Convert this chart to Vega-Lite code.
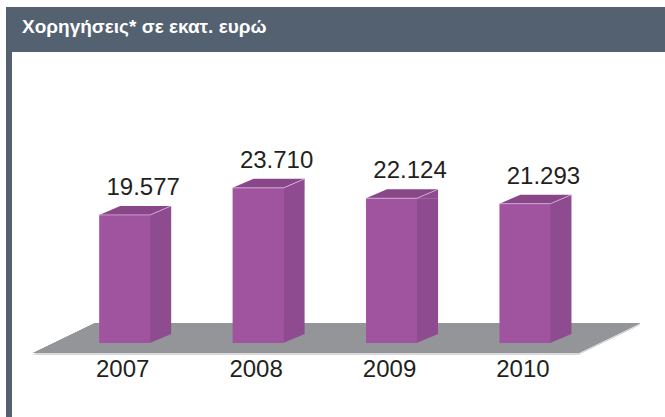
{
  "$schema": "https://vega.github.io/schema/vega-lite/v6.json",
  "background": "white",
  "padding": {"left": 6, "top": 7, "right": 0, "bottom": 0},
  "spacing": 0,
  "config": {
    "view": {"stroke": null},
    "font": "Liberation Sans",
    "locale": {"number": {"decimal": ",", "thousands": ".", "grouping": [3], "currency": ["", " €"]}}
  },
  "title": {
    "text": "Χορηγήσεις* σε εκατ. ευρώ",
    "anchor": "start",
    "orient": "top",
    "offset": -45,
    "dx": 16,
    "baseline": "alphabetic",
    "color": "white",
    "fontSize": 19,
    "fontWeight": "bold",
    "font": "Liberation Sans"
  },
  "datasets": {
    "grants": [
      {"year": 2007, "grants": 19577},
      {"year": 2008, "grants": 23710},
      {"year": 2009, "grants": 22124},
      {"year": 2010, "grants": 21293}
    ]
  },
  "vconcat": [
    {
      "width": 659,
      "height": 45,
      "data": {"values": [{"part": "header"}]},
      "mark": {"type": "rect", "color": "#546170"},
      "encoding": {}
    },
    {
      "spacing": 0,
      "hconcat": [
        {
          "width": 6,
          "height": 365,
          "data": {"values": [{"part": "border"}]},
          "mark": {"type": "rect", "color": "#546170"},
          "encoding": {}
        },
        {
          "width": 653,
          "height": 365,
          "data": {"name": "grants"},
          "encoding": {
            "x": {"field": "year", "type": "quantitative", "scale": {"domain": [2006.193, 2011.0122], "nice": false, "zero": false}, "axis": null},
            "y": {"field": "grants", "type": "quantitative", "scale": {"domain": [-11310, 44475], "nice": false, "zero": false}, "axis": null}
          },
          "layer": [
            {
              "mark": {"type": "point", "shape": "M-291.6,11.8 L253.4,11.8 L315.4,-18.2 L-229.6,-18.2 Z", "size": 4, "filled": true, "color": "#d8d8da", "opacity": 1, "strokeWidth": 0},
              "encoding": {"x": {"datum": 2008.5}, "y": {"datum": 0}}
            },
            {
              "mark": {"type": "point", "shape": "M-291.6,10 L253.4,10 L315.4,-20 L-229.6,-20 Z", "size": 4, "filled": true, "color": "#939598", "opacity": 1, "strokeWidth": 0},
              "encoding": {"x": {"datum": 2008.5}, "y": {"datum": 0}}
            },
            {
              "mark": {"type": "point", "shape": "M25,-9 L46.5,-9 L25,0 Z", "size": 4, "filled": true, "color": "#8f4b90", "opacity": 1, "strokeWidth": 0},
              "encoding": {"y": {"datum": 0}}
            },
            {
              "mark": {"type": "bar", "orient": "vertical", "width": 21.5, "xOffset": 35.75, "y2Offset": -9, "color": "#8f4b90"},
              "encoding": {"y2": {"datum": 0}}
            },
            {
              "mark": {"type": "bar", "orient": "vertical", "width": 51, "color": "#a054a0"}
            },
            {
              "mark": {"type": "point", "shape": "M25,0.3 L46.5,-9 L46.5,0.3 Z", "size": 4, "filled": true, "color": "#8f4b90", "opacity": 1, "strokeWidth": 0}
            },
            {
              "mark": {"type": "point", "shape": "M-25.5,0 L25.5,0 L46.5,-9 L-4.5,-9 Z", "size": 4, "filled": true, "color": "#89478a", "opacity": 1, "strokeWidth": 0}
            },
            {
              "mark": {"type": "point", "shape": "M-25.5,0 L25.5,0 L46.5,-9", "size": 4, "filled": false, "stroke": "#e8cbe8", "strokeWidth": 0.8, "opacity": 0.8},
              "encoding": {}
            },
            {
              "mark": {"type": "text", "align": "center", "baseline": "alphabetic", "dx": 18.5, "dy": -20, "fontSize": 24, "color": "#231f20", "font": "Liberation Sans"},
              "encoding": {"text": {"field": "grants", "type": "quantitative", "format": ",d"}}
            },
            {
              "mark": {"type": "text", "align": "center", "baseline": "alphabetic", "dx": -2, "dy": 34, "fontSize": 24, "color": "#231f20", "font": "Liberation Sans"},
              "encoding": {"y": {"datum": 0}, "text": {"field": "year", "type": "quantitative", "format": "d"}}
            }
          ]
        }
      ]
    }
  ]
}
